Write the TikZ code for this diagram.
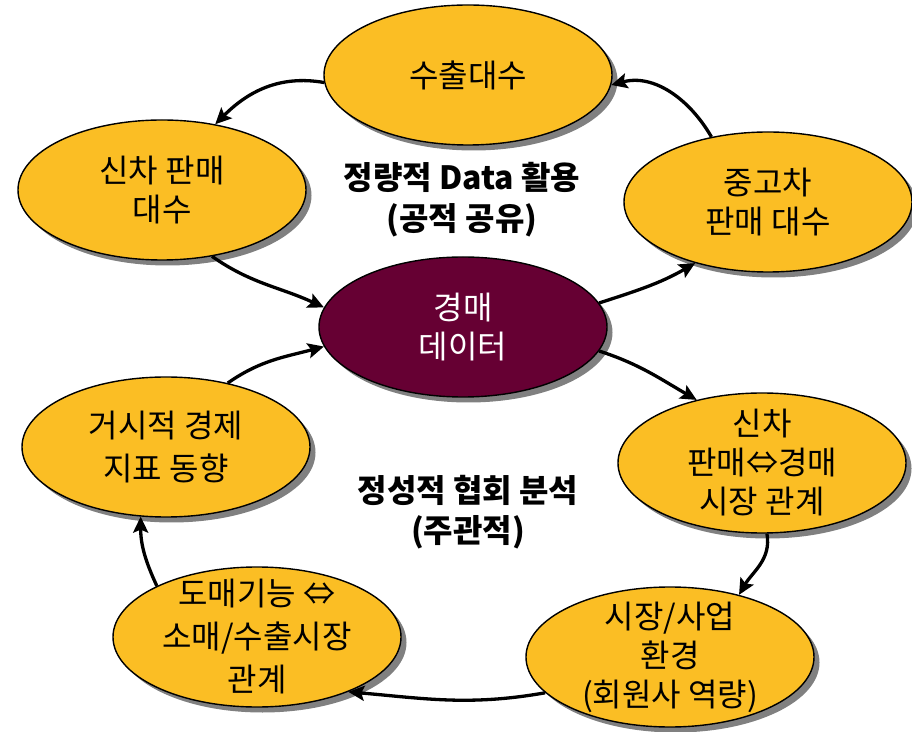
\documentclass[tikz,border=0pt]{standalone}
\usepackage{fontspec}
\setmainfont{Noto Sans CJK KR}
\usetikzlibrary{arrows.meta,shapes.geometric,shadows}
\definecolor{gold}{RGB}{251,190,36}
\definecolor{hubred}{RGB}{102,0,51}
\begin{document}
\begin{tikzpicture}[x=1pt,y=1pt,
  blob/.style={ellipse, draw=black, line width=1.4pt, fill=gold,
    minimum width=288pt, minimum height=140pt, inner sep=0pt,
    drop shadow={shadow xshift=5.5pt, shadow yshift=-5.5pt, fill=black!50, opacity=1}},
  hub/.style={blob, fill=hubred},
  txt/.style={align=center, font=\fontsize{32}{39}\selectfont, inner sep=0pt},
  hubtxt/.style={txt, text=white},
  note/.style={align=center, font=\bfseries\fontsize{32}{43}\selectfont, inner sep=0pt},
  flow/.style={-{Stealth[length=16pt,width=15pt,inset=3pt]}, line width=3.3pt}]
\useasboundingbox (0,0) rectangle (912,731);
% ellipses
\node[blob] (ss) at (468,656) {};
\node[txt] (ss-t) at (ss) {수출대수};
\node[blob] (nc) at (162,541) {};
\node[txt] (nc-t) at (nc) {신차 판매\\대수};
\node[blob] (uc) at (768,529) {};
\node[txt] (uc-t) at (uc) {중고차\\판매 대수};
\node[hub] (au) at (463,404) {};
\node[hubtxt] (au-t) at (au) {경매\\데이터};
\node[blob] (nr) at (762,268) {};
\node[txt] (nr-t) at (nr) {신차\\판매⇔경매\\시장 관계};
\node[blob] (me) at (670,74) {};
\node[txt] (me-t) at (me) {시장/사업\\환경\\(회원사 역량)};
\node[blob] (ma) at (166,284) {};
\node[txt, font=\fontsize{32}{43}\selectfont] (ma-t) at (ma) {거시적 경제\\지표 동향};
\node[blob] (wh) at (257,94) {};
\node[txt, font=\fontsize{32}{43}\selectfont] (wh-t) at (wh) {도매기능 ⇔\\소매/수출시장\\관계};
% centre notes
\node[note] (q1) at (462,554) {정량적 Data 활용};
\node[note] (q2) at (462,511) {(공적 공유)};
\node[note] (r1) at (468,241) {정성적 협회 분석};
\node[note] (r2) at (468,199) {(주관적)};
% connectors
\draw[flow] (ss.183) to[out=170,in=45] (nc.51);
\draw[flow] (nc.307) to[out=-35,in=155] (au.172);
\draw[flow] (ma.46) to[out=35,in=195] (au.188);
\draw[flow] (au.10) to[out=18,in=210] (uc.220);
\draw[flow] (uc.131) to[out=120,in=15] (ss.-4);
\draw[flow] (au.-10) to[out=-18,in=150] (nr.136);
\draw[flow] (nr.-86) to[out=-80,in=60] (me.42);
\draw[flow] (me.196) to[out=190,in=-5] (wh.-31);
\draw[flow] (wh.153) to[out=115,in=-90] (ma.250);
\end{tikzpicture}
\end{document}
